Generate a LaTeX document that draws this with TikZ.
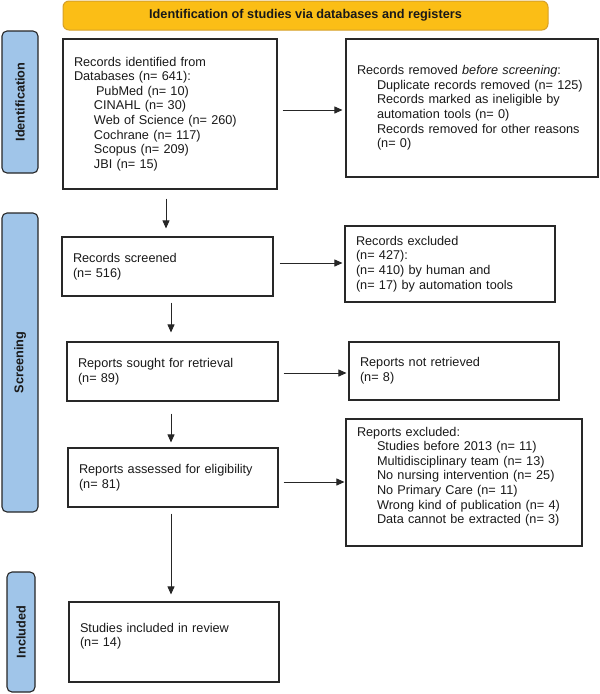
\documentclass[tikz,border=0pt]{standalone}
\usepackage{fontspec}
\setmainfont{Liberation Sans}
\usetikzlibrary{arrows.meta}
\definecolor{bannerfill}{RGB}{251,190,22}
\definecolor{bannerdraw}{RGB}{214,160,40}
\definecolor{sidefill}{RGB}{160,197,233}
\definecolor{linecol}{RGB}{40,40,40}
\newcommand{\ind}{\hspace*{20pt}}
\begin{document}
\begin{tikzpicture}[x=1pt,y=-1pt,
  every node/.style={font=\fontsize{12.7}{14.6}\selectfont, text=black!90},
  box/.style={draw=linecol, line width=1.1pt, align=left, inner xsep=11pt, inner ysep=4pt, anchor=center},
  sidebar/.style={draw=black!85, fill=sidefill, line width=1.1pt, rounded corners=5pt, inner sep=0pt, rotate=90,
    font=\fontsize{12.7}{14.6}\selectfont\bfseries},
  arr/.style={draw=black!85, line width=0.8pt, -{Triangle[length=8pt,width=7pt]}}]
\useasboundingbox (0,0) rectangle (600,694);

% banner
\node[draw=bannerdraw, fill=bannerfill, rounded corners=6pt, line width=1pt,
  minimum width=485pt, minimum height=29pt, font=\fontsize{12.7}{14.6}\selectfont\bfseries]
  (banner) at (305.5,15.5) {Identification of studies via databases and registers};

% side bars
\node[sidebar, minimum width=142pt, minimum height=36pt] (sideid) at (20,102) {Identification};
\node[sidebar, minimum width=299pt, minimum height=36pt] (sidescr) at (20,362.5) {Screening};
\node[sidebar, minimum width=120pt, minimum height=28pt] (sideinc) at (21,632) {Included};

% boxes
\node[box, text width=192pt, minimum height=150pt] (box1) at (170,114)
 {Records identified from\\ Databases (n= 641):\\
  \hspace*{22pt}PubMed (n= 10)\\ \ind CINAHL (n= 30)\\ \ind Web of Science (n= 260)\\
  \ind Cochrane (n= 117)\\ \ind Scopus (n= 209)\\ \ind JBI (n= 15)};

\node[box, text width=230pt, minimum height=138pt] (removed) at (472,108)
 {Records removed \emph{before screening}:\\
  \ind Duplicate records removed (n= 125)\\
  \ind Records marked as ineligible by\\
  \ind automation tools (n= 0)\\
  \ind Records removed for other reasons\\
  \ind (n= 0)};

\node[box, text width=189pt, minimum height=59pt] (screened) at (167.5,266.5)
 {Records screened\\ (n= 516)};

\node[box, text width=188pt, minimum height=76pt] (excluded) at (450,264)
 {Records excluded\\ (n= 427):\\ (n= 410) by human and\\ (n= 17) by automation tools};

\node[box, text width=189pt, minimum height=59pt] (sought) at (172.5,371.5)
 {Reports sought for retrieval\\ (n= 89)};

\node[box, text width=188pt, minimum height=58pt] (notret) at (454,371)
 {Reports not retrieved\\ (n= 8)};

\node[box, text width=188pt, minimum height=59pt] (assessed) at (173,477.5)
 {Reports assessed for eligibility\\ (n= 81)};

\node[box, text width=214pt, minimum height=127pt] (repexcl) at (464,482.5)
 {Reports excluded:\\
  \ind Studies before 2013 (n= 11)\\
  \ind Multidisciplinary team (n= 13)\\
  \ind No nursing intervention (n= 25)\\
  \ind No Primary Care (n= 11)\\
  \ind Wrong kind of publication (n= 4)\\
  \ind Data cannot be extracted (n= 3)\\ \mbox{}};

\node[box, text width=188pt, minimum height=80pt] (studies) at (174,642)
 {Studies included in review\\ (n= 14)\\ \mbox{}};

% connectors
\draw[arr, shorten <=5pt, shorten >=3pt] (box1.east |- 0,110) -- (removed.west |- 0,110);
\draw[arr, shorten <=9pt, shorten >=8pt] (box1.south -| 166,0) -- (screened.north -| 166,0);
\draw[arr, shorten <=6pt, shorten >=2pt] (screened.east |- 0,263) -- (excluded.west |- 0,263);
\draw[arr, shorten <=6pt, shorten >=9pt] (screened.south -| 171,0) -- (sought.north -| 171,0);
\draw[arr, shorten <=5pt, shorten >=2pt] (sought.east |- 0,373) -- (notret.west |- 0,373);
\draw[arr, shorten <=12pt, shorten >=5pt] (sought.south -| 171,0) -- (assessed.north -| 171,0);
\draw[arr, shorten <=5pt, shorten >=1pt] (assessed.east |- 0,482) -- (repexcl.west |- 0,482);
\draw[arr, shorten <=6pt, shorten >=7pt] (assessed.south -| 171,0) -- (studies.north -| 171,0);
\end{tikzpicture}
\end{document}
